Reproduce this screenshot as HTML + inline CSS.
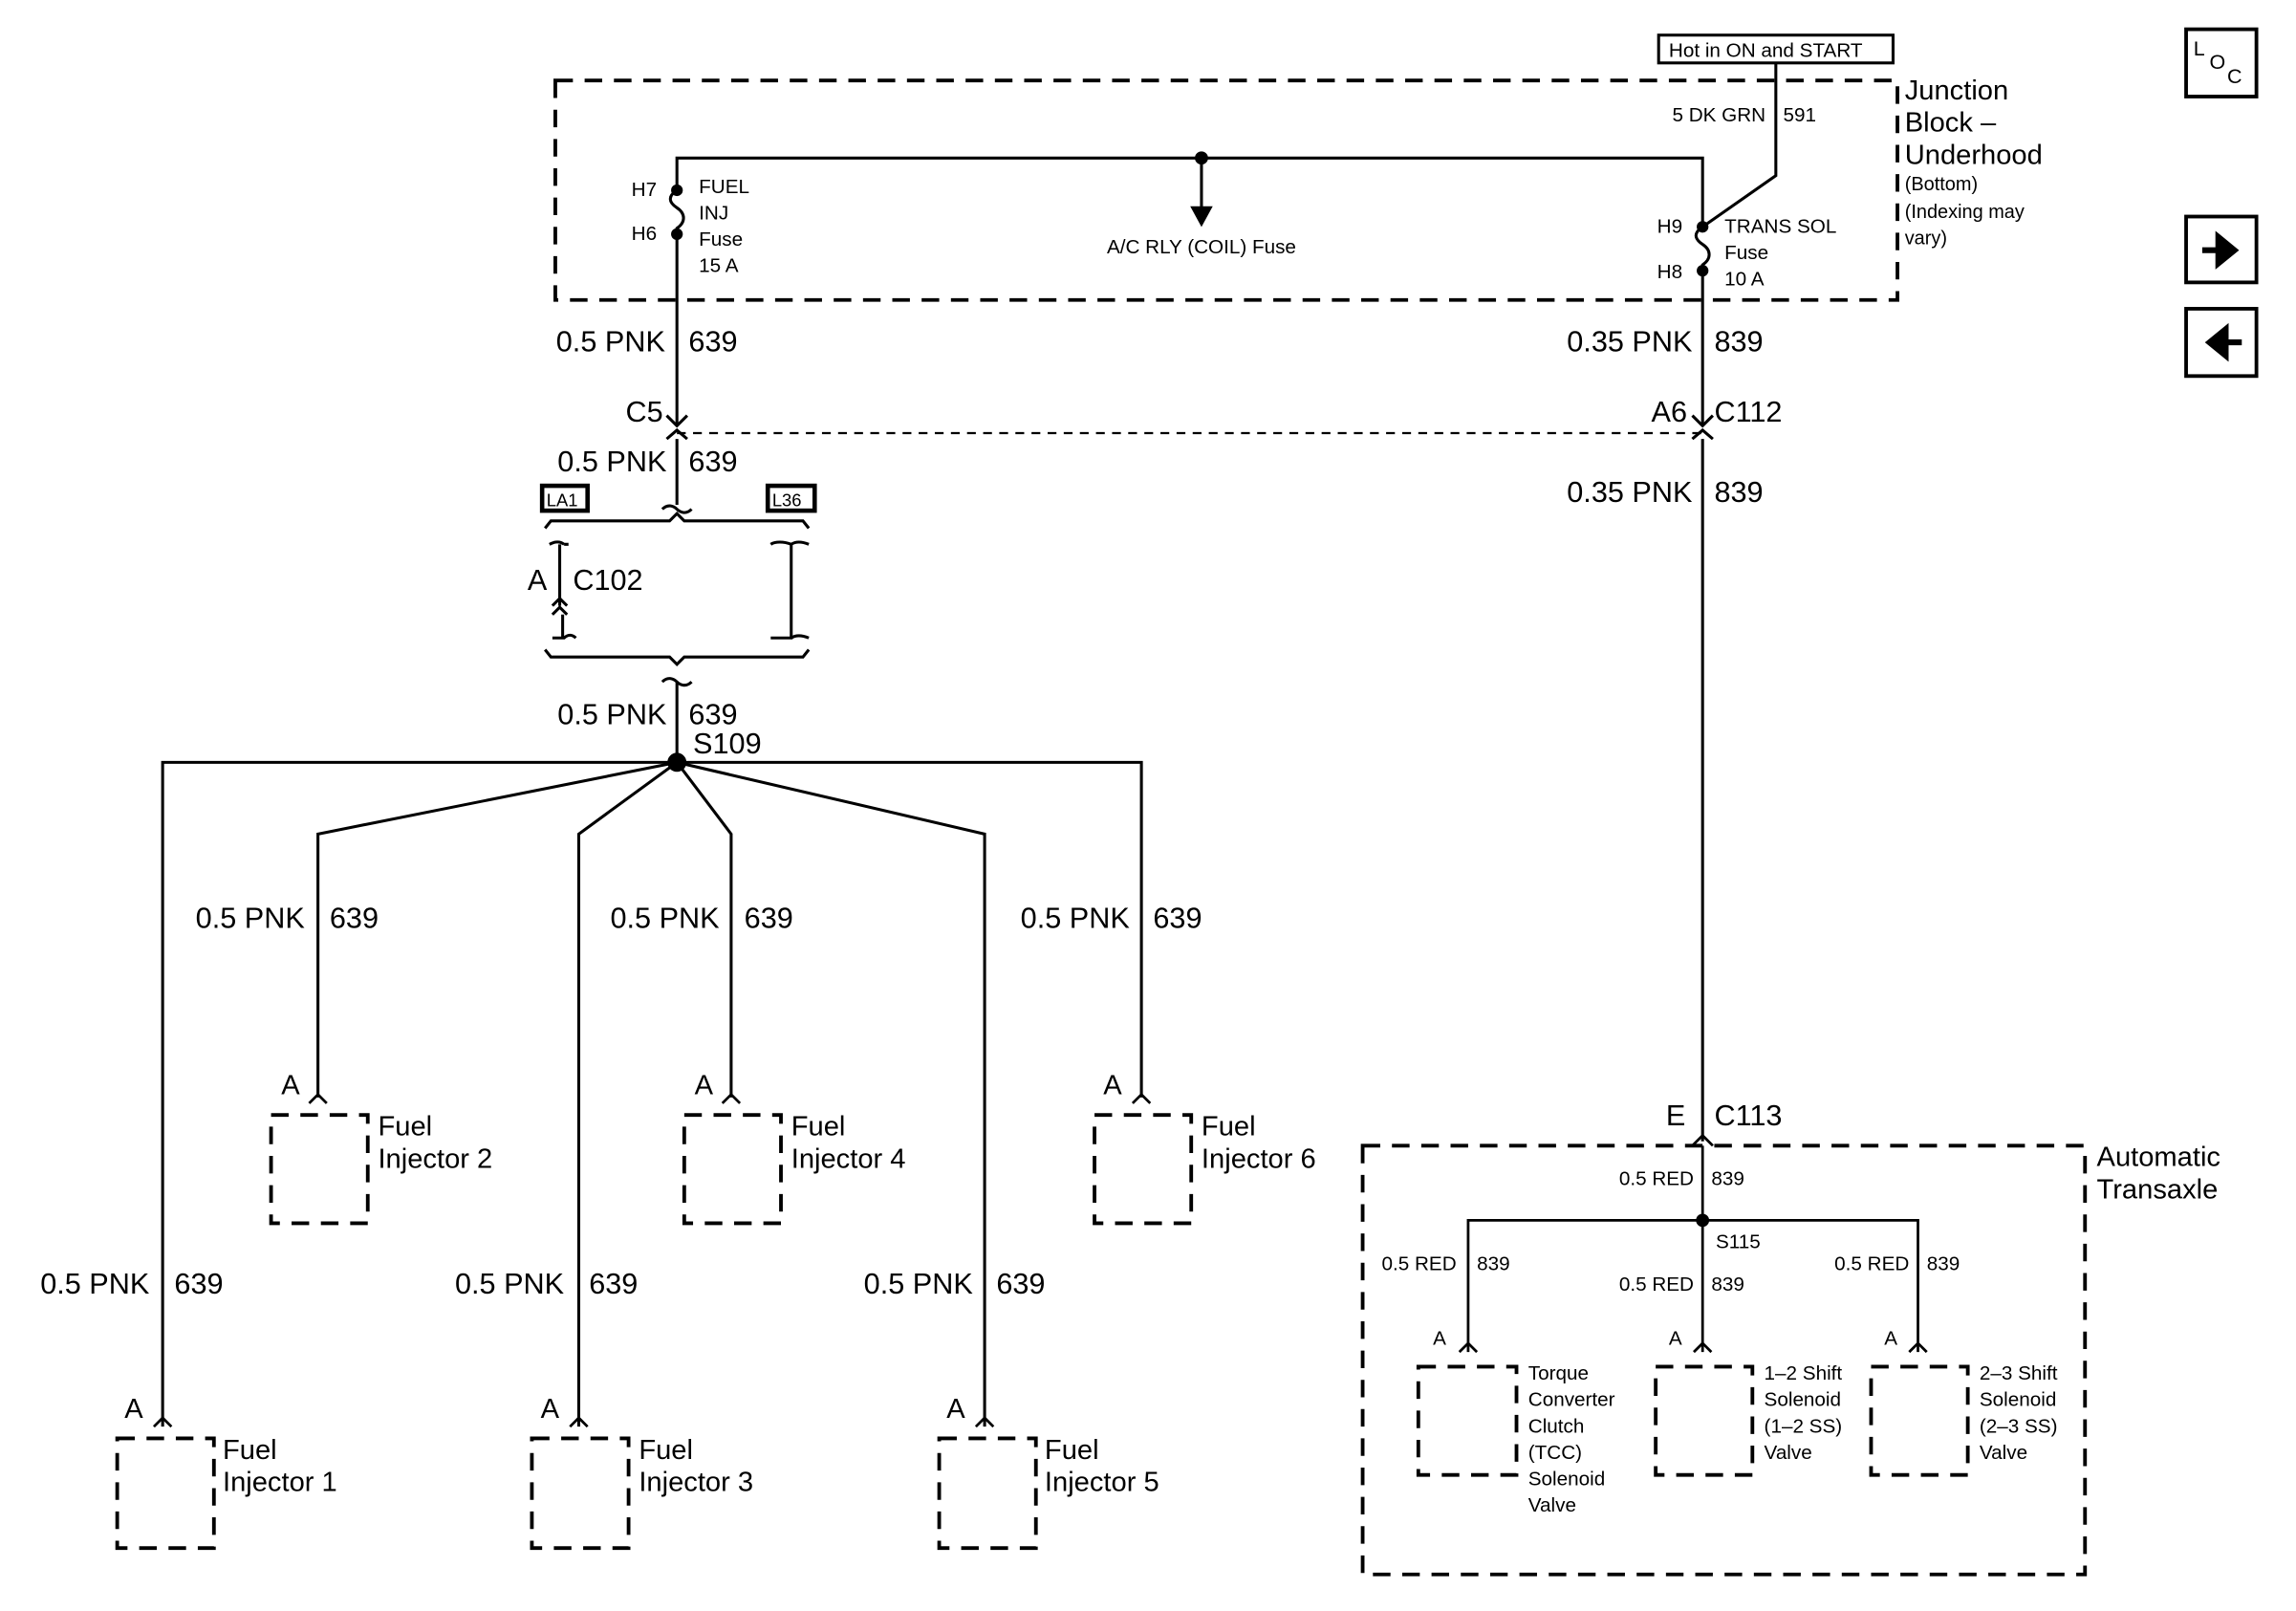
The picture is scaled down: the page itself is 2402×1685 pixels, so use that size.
<!DOCTYPE html>
<html><head><style>html,body{margin:0;padding:0;background:#fff}svg{display:block}</style></head><body>
<svg width="2402" height="1685" viewBox="0 0 1567 1101" preserveAspectRatio="none" xmlns="http://www.w3.org/2000/svg" font-family="Liberation Sans, sans-serif" fill="none" stroke="#000" stroke-width="2">
<g stroke-dasharray="12,8" stroke-width="2.5">
<rect x="379" y="55" width="916" height="150"/>
<rect x="930" y="783" width="493" height="293"/>
<rect x="185" y="762" width="66" height="74"/>
<rect x="467" y="762" width="66" height="74"/>
<rect x="747" y="762" width="66" height="74"/>
<rect x="80" y="983" width="66" height="75"/>
<rect x="363" y="983" width="66" height="75"/>
<rect x="641" y="983" width="66" height="75"/>
<rect x="968" y="934" width="67" height="74"/>
<rect x="1130" y="934" width="66" height="74"/>
<rect x="1277" y="934" width="66" height="74"/>
</g>
<line x1="462" y1="296" x2="1162" y2="296" stroke-dasharray="6,5" stroke-width="1.5"/>
<rect x="1132" y="24" width="160" height="19" stroke-width="2"/>
<rect x="1492" y="20" width="48" height="46" stroke-width="2.5"/>
<rect x="1492" y="148" width="48" height="45" stroke-width="2.5"/>
<rect x="1492" y="211" width="48" height="46" stroke-width="2.5"/>
<rect x="370" y="332" width="31" height="17" stroke-width="3"/>
<rect x="524" y="332" width="32" height="17" stroke-width="3"/>
<path d="M1503 171h16M1514 162l11 9-11 9z" fill="#000" stroke-width="4"/>
<path d="M1530 234h-16M1519 225l-11 9 11 9z" fill="#000" stroke-width="4"/>
<path d="M462 130V108H1162V155"/>
<path d="M462 130c-6 4-6 8 0 12s6 10 0 14v4"/>
<path d="M462 160V290"/>
<path d="M1162 155c-6 4-6 8 0 12s6 10 0 14v4"/>
<path d="M1162 185V290"/>
<path d="M1212 43V120L1162 155"/>
<circle cx="462" cy="130" r="3" fill="#000"/><circle cx="462" cy="160" r="3" fill="#000"/>
<circle cx="1162" cy="155" r="3" fill="#000"/><circle cx="1162" cy="185" r="3" fill="#000"/>
<circle cx="820" cy="108" r="3.5" fill="#000"/>
<path d="M820 108V150"/><path d="M814 142l6 11 6-11z" fill="#000"/>
<path d="M455 284l7 7 7-7M455 300l7-6 7 6M462 300V345"/>
<path d="M1155 284l7 7 7-7M1155 300l7-6 7 6M1162 300V780"/>
<path d="M452 348c4-4 8-2 10 0s6 4 10 0" />
<path d="M372 361l4-5h81l5-5 5 5h81l4 5"/>
<path d="M385 372c-4-3-8-1-10 0M382 372V414M385 372h3M384 420V436M377 436h8c3-3 6-2 8 0"/>
<path d="M377 414l5-5 5 5M377 420l5-5 5 5"/>
<path d="M526 372c3-2 9-2 14 0v64h-14M540 436c3-2 7-2 12 0M540 372c3-2 7-2 12 0"/>
<path d="M372 444l4 5h81l5 5 5-5h81l4-5"/>
<path d="M452 466c4-4 8-2 10 0s6 4 10 0M462 466V521"/>
<circle cx="462" cy="521" r="5.5" fill="#000"/>
<path d="M111 975V521H779V750"/>
<path d="M462 521L217 570V750M462 521L395 570V975M462 521L499 570V750M462 521L672 570V975"/>
<g stroke-width="1.8">
<path d="M211 754l6-6 6 6M493 754l6-6 6 6M773 754l6-6 6 6M105 975l6-6 6 6M389 975l6-6 6 6M666 975l6-6 6 6"/>
<path d="M1155 783l7-7 7 7M1162 783V924M1002 924V834H1309V924"/>
<path d="M996 924l6-6 6 6M1156 924l6-6 6 6M1303 924l6-6 6 6"/>
</g>
<circle cx="1162" cy="834" r="3.5" fill="#000"/>
<g fill="#000" stroke="none" font-size="19">
<text x="454" y="240" text-anchor="end" font-size="20">0.5 PNK</text><text x="470" y="240" font-size="20">639</text>
<text x="1155" y="240" text-anchor="end" font-size="20">0.35 PNK</text><text x="1170" y="240" font-size="20">839</text>
<text x="427" y="288" font-size="20">C5</text>
<text x="1127" y="288" font-size="20">A6</text><text x="1170" y="288" font-size="20">C112</text>
<text x="455" y="322" text-anchor="end" font-size="20">0.5 PNK</text><text x="470" y="322" font-size="20">639</text>
<text x="1155" y="343" text-anchor="end" font-size="20">0.35 PNK</text><text x="1170" y="343" font-size="20">839</text>
<text x="373" y="346" font-size="12">LA1</text><text x="527" y="346" font-size="12">L36</text>
<text x="360" y="403" font-size="20">A</text><text x="391" y="403" font-size="20">C102</text>
<text x="455" y="495" text-anchor="end" font-size="20">0.5 PNK</text><text x="470" y="495" font-size="20">639</text>
<text x="473" y="515" font-size="20">S109</text>
<text x="208" y="634" text-anchor="end" font-size="20">0.5 PNK</text><text x="225" y="634" font-size="20">639</text>
<text x="491" y="634" text-anchor="end" font-size="20">0.5 PNK</text><text x="508" y="634" font-size="20">639</text>
<text x="771" y="634" text-anchor="end" font-size="20">0.5 PNK</text><text x="787" y="634" font-size="20">639</text>
<text x="102" y="884" text-anchor="end" font-size="20">0.5 PNK</text><text x="119" y="884" font-size="20">639</text>
<text x="385" y="884" text-anchor="end" font-size="20">0.5 PNK</text><text x="402" y="884" font-size="20">639</text>
<text x="664" y="884" text-anchor="end" font-size="20">0.5 PNK</text><text x="680" y="884" font-size="20">639</text>
<text x="192" y="748" font-size="19">A</text><text x="474" y="748" font-size="19">A</text><text x="753" y="748" font-size="19">A</text>
<text x="85" y="969" font-size="19">A</text><text x="369" y="969" font-size="19">A</text><text x="646" y="969" font-size="19">A</text>
<text x="258" y="776">Fuel</text><text x="258" y="798">Injector 2</text>
<text x="540" y="776">Fuel</text><text x="540" y="798">Injector 4</text>
<text x="820" y="776">Fuel</text><text x="820" y="798">Injector 6</text>
<text x="152" y="997">Fuel</text><text x="152" y="1019">Injector 1</text>
<text x="436" y="997">Fuel</text><text x="436" y="1019">Injector 3</text>
<text x="713" y="997">Fuel</text><text x="713" y="1019">Injector 5</text>
<text x="1137" y="769" font-size="20">E</text><text x="1170" y="769" font-size="20">C113</text>
<text x="1300" y="68">Junction</text><text x="1300" y="90">Block –</text><text x="1300" y="112">Underhood</text>
<text x="1300" y="130" font-size="13">(Bottom)</text><text x="1300" y="149" font-size="13">(Indexing may</text><text x="1300" y="167" font-size="13">vary)</text>
<text x="1431" y="797">Automatic</text><text x="1431" y="819">Transaxle</text>
<g font-size="13.5">
<text x="1139" y="39">Hot in ON and START</text>
<text x="1205" y="83" text-anchor="end">5 DK GRN</text><text x="1217" y="83">591</text>
<text x="431" y="134">H7</text><text x="431" y="164">H6</text>
<text x="477" y="132">FUEL</text><text x="477" y="150">INJ</text><text x="477" y="168">Fuse</text><text x="477" y="186">15 A</text>
<text x="820" y="173" text-anchor="middle">A/C RLY (COIL) Fuse</text>
<text x="1131" y="159">H9</text><text x="1131" y="190">H8</text>
<text x="1177" y="159">TRANS SOL</text><text x="1177" y="177">Fuse</text><text x="1177" y="195">10 A</text>
<text x="1156" y="810" text-anchor="end">0.5 RED</text><text x="1168" y="810">839</text>
<text x="1171" y="853">S115</text>
<text x="994" y="868" text-anchor="end">0.5 RED</text><text x="1008" y="868">839</text>
<text x="1156" y="882" text-anchor="end">0.5 RED</text><text x="1168" y="882">839</text>
<text x="1303" y="868" text-anchor="end">0.5 RED</text><text x="1315" y="868">839</text>
<text x="978" y="919">A</text><text x="1139" y="919">A</text><text x="1286" y="919">A</text>
<text x="1043" y="943">Torque</text><text x="1043" y="961">Converter</text><text x="1043" y="979">Clutch</text><text x="1043" y="997">(TCC)</text><text x="1043" y="1015">Solenoid</text><text x="1043" y="1033">Valve</text>
<text x="1204" y="943">1–2 Shift</text><text x="1204" y="961">Solenoid</text><text x="1204" y="979">(1–2 SS)</text><text x="1204" y="997">Valve</text>
<text x="1351" y="943">2–3 Shift</text><text x="1351" y="961">Solenoid</text><text x="1351" y="979">(2–3 SS)</text><text x="1351" y="997">Valve</text>
</g>
<text x="1497" y="38" font-size="14">L</text><text x="1508" y="47" font-size="14">O</text><text x="1520" y="57" font-size="14">C</text>
</g>
</svg>
</body></html>
